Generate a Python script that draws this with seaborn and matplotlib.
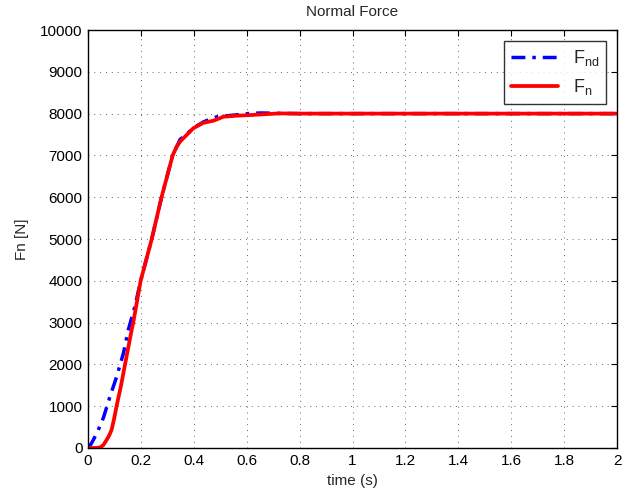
import matplotlib
matplotlib.use("Agg")
import matplotlib.pyplot as plt
import pandas as pd
import seaborn as sns

# desired normal force F_nd (blue, dash-dot)
t_nd = [0.0, 0.01, 0.02, 0.04, 0.058, 0.083, 0.108, 0.134, 0.152, 0.178, 0.199,
        0.241, 0.278, 0.320, 0.348, 0.40, 0.436, 0.474, 0.49, 0.575, 0.62, 0.66,
        0.72, 0.8, 1.0, 1.5, 2.0]
f_nd = [0, 80, 190, 450, 720, 1230, 1700, 2270, 2820, 3400, 4000,
        5000, 6000, 7000, 7380, 7660, 7800, 7900, 7926, 7980, 8010, 8015,
        8005, 8000, 8000, 8000, 8000]

# measured normal force F_n (red, solid)
t_n = [0.0, 0.03, 0.045, 0.058, 0.07, 0.08, 0.089, 0.098, 0.108, 0.125, 0.140,
       0.165, 0.171, 0.199, 0.241, 0.278, 0.320, 0.335, 0.348, 0.398, 0.436,
       0.474, 0.512, 0.562, 0.612, 0.68, 0.726, 0.8, 1.0, 1.5, 2.0]
f_n = [0, 0, 10, 70, 190, 300, 430, 680, 1000, 1500, 2000,
       2823, 3000, 4000, 5000, 6000, 7000, 7208, 7330, 7650, 7780,
       7830, 7926, 7950, 7965, 7990, 8005, 8000, 8000, 8000, 8000]

df_nd = pd.DataFrame({"time": t_nd, "force": f_nd})
df_n = pd.DataFrame({"time": t_n, "force": f_n})

sns.set_style("white")
plt.rcParams["font.family"] = ["Liberation Sans", "DejaVu Sans"]
plt.rcParams["font.size"] = 11
plt.rcParams["mathtext.fontset"] = "custom"
plt.rcParams["mathtext.rm"] = "Liberation Sans"

fig = plt.figure(figsize=(6.35, 4.93), dpi=100)
ax = fig.add_axes([0.1386, 0.0913, 0.8331, 0.8478])

sns.lineplot(data=df_nd, x="time", y="force", ax=ax, color="#0000ff",
             linewidth=2.5, linestyle=(0, (4, 2, 1, 2)), label=r"F$_{\mathrm{nd}}$",
             sort=False)
sns.lineplot(data=df_n, x="time", y="force", ax=ax, color="#ff0000",
             linewidth=2.7, label=r"F$_{\mathrm{n}}$", sort=False)

ax.set_xlim(0, 2)
ax.set_ylim(0, 10000)
ax.set_xticks([0, 0.2, 0.4, 0.6, 0.8, 1, 1.2, 1.4, 1.6, 1.8, 2])
ax.set_xticklabels(["0", "0.2", "0.4", "0.6", "0.8", "1", "1.2", "1.4", "1.6", "1.8", "2"])
ax.set_yticks(range(0, 10001, 1000))
ax.grid(True, color="black", linestyle=(0, (1, 5)), linewidth=0.7, alpha=0.6)
ax.tick_params(direction="in", top=True, right=True, length=4, width=0.8,
               labelsize=11, colors="black", pad=4)
for s in ax.spines.values():
    s.set_color("black")
    s.set_linewidth(1.0)

ax.set_title("Normal Force", fontsize=11, pad=10)
ax.set_xlabel("time (s)", fontsize=11, labelpad=5)
ax.set_ylabel("Fn [N]", fontsize=11, labelpad=8)

leg = ax.legend(loc="upper right", fontsize=13, frameon=True, fancybox=False,
                handlelength=2.6, borderaxespad=0.6)
leg.get_frame().set_edgecolor("black")
leg.get_frame().set_linewidth(1.0)

fig.savefig("out.png", dpi=100)
